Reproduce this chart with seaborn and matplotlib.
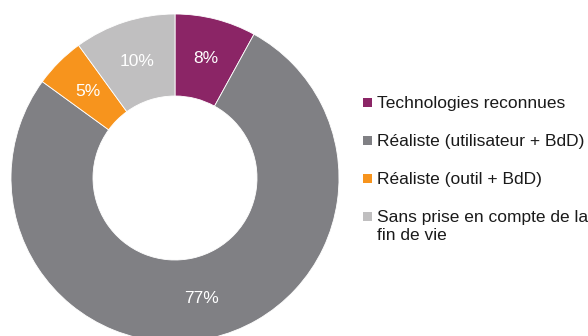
import matplotlib
matplotlib.use("Agg")
import matplotlib.pyplot as plt
from matplotlib.patches import Rectangle
import seaborn as sns

categories = ["Technologies reconnues", "Réaliste (utilisateur + BdD)",
              "Réaliste (outil + BdD)", "Sans prise en compte de la\nfin de vie"]
values = [8, 77, 5, 10]
value_labels = ["8%", "77%", "5%", "10%"]
colors = ["#8B2566", "#808084", "#F7941D", "#C0BFC0"]

sns.set_theme(style="white")
plt.rcParams['font.family'] = ['Liberation Sans', 'DejaVu Sans']

W, H = 588, 336
fig = plt.figure(figsize=(W / 100, H / 100), dpi=100)
fig.patch.set_facecolor("white")

# donut: center (175,178) px from top-left, radius 164 px
cx, cy, R = 175, 178, 164
ax = fig.add_axes([(cx - R) / W, (H - cy - R) / H, 2 * R / W, 2 * R / H])
wedges, texts = ax.pie(values, colors=colors, startangle=90, counterclock=False,
                       labels=value_labels, labeldistance=0.75,
                       wedgeprops=dict(width=0.5, edgecolor="white", linewidth=0.6),
                       textprops=dict(color="white", fontsize=12.5),
                       radius=1)
for t in texts:
    t.set_ha("center")
    t.set_va("center")
ax.set_xlim(-1, 1)
ax.set_ylim(-1, 1)
ax.set_aspect("equal")
ax.axis("off")

# legend drawn manually
baselines = [108, 146, 184, 222]
for lab, col, yb in zip(categories, colors, baselines):
    fig.add_artist(Rectangle((363 / W, 1 - (yb - 1) / H), 9 / W, 9 / H,
                             transform=fig.transFigure, facecolor=col, edgecolor="none"))
    for i, line in enumerate(lab.split("\n")):
        fig.text(377 / W, 1 - (yb + 18 * i) / H, line, fontsize=12.5, color="#1a1a1a",
                 ha="left", va="baseline")

fig.savefig("out.png", dpi=100, facecolor="white")
